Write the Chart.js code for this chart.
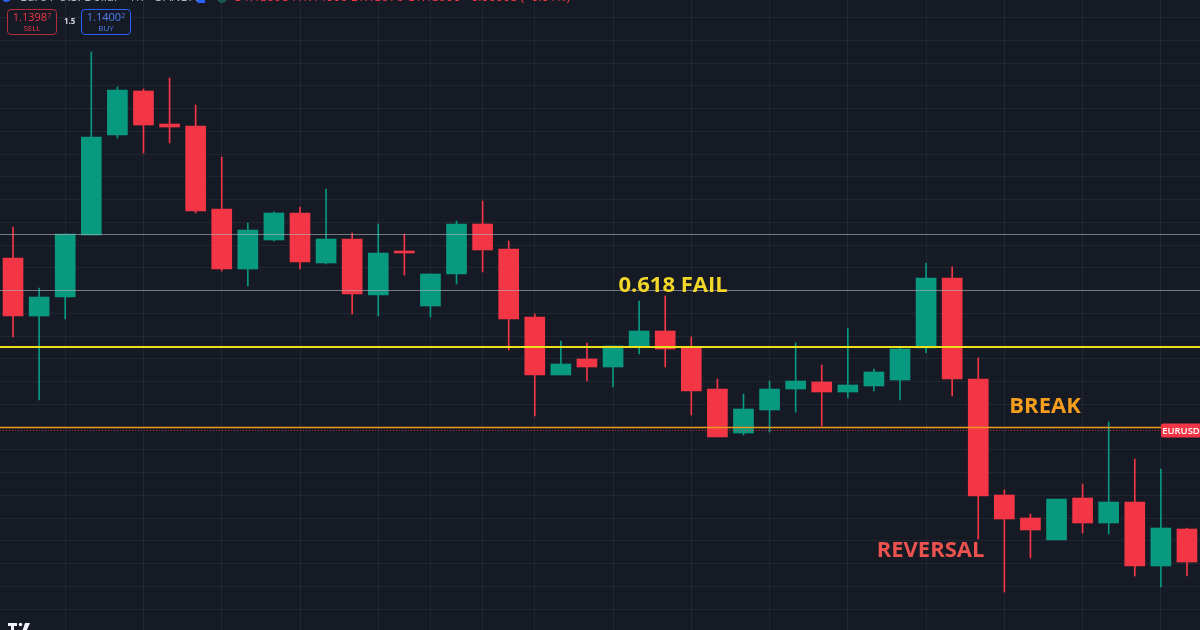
<!DOCTYPE html>
<html>
<head>
<meta charset="utf-8">
<title>EURUSD 1h</title>
<script src="https://cdn.jsdelivr.net/npm/chart.js@4.4.1/dist/chart.umd.min.js"></script>
<style>
  html, body { margin: 0; padding: 0; background: #161a25; }
  #wrap { position: relative; width: 1200px; height: 630px; overflow: hidden; background: #161a25; }
  #chart { display: block; }
  .hdr { position: absolute; top: -12px; left: 0; white-space: nowrap; font: 12.5px "Open Sans", sans-serif; color: #b2b5be; }
  .hdr .ico { position: absolute; left: 2px; top: 5px; width: 9px; height: 9px; border-radius: 50%; background: #2962ff; }
  .hdr .title { position: absolute; left: 20px; top: 0; }
  .hdr .sq { position: absolute; left: 197px; top: 7px; width: 8px; height: 8px; background: #2962ff; border-radius: 1px; }
  .hdr .dot { position: absolute; left: 217px; top: 5px; width: 10px; height: 10px; border-radius: 50%; background: #1e5a4c; }
  .hdr .ohlc { position: absolute; left: 233px; top: 0; color: #f23645; }
  .tbox { position: absolute; top: 9px; width: 50px; height: 26px; box-sizing: border-box; border: 1px solid; border-radius: 4px;
          text-align: center; font-family: "Open Sans", sans-serif; background: #161a25; }
  .sell { left: 7px; border-color: #b52d3a; color: #f23645; }
  .buy { left: 81px; border-color: #2962ff; color: #4f7ff0; }
  .tbox .px { font-size: 11px; line-height: 13px; margin-top: 0; }
  .tbox .px sup { font-size: 7px; vertical-align: 3px; line-height: 0; }
  .tbox .side { font-size: 8px; line-height: 10px; }
  .qty { position: absolute; left: 64px; top: 15px; font: bold 8px "Open Sans", sans-serif; color: #d1d4dc; }
  .logo { position: absolute; left: 8px; top: 622px; }
</style>
</head>
<body>
<div id="wrap">
  <canvas id="chart" width="1200" height="630"></canvas>
  <div class="hdr">
    <span class="ico"></span>
    <span class="title">Euro / U.S. Dollar · 1h · OANDA</span>
    <span class="sq"></span>
    <span class="dot"></span>
    <span class="ohlc">O1.13998 H1.14006 L1.13976 C1.13990 −0.00008 (−0.01%)</span>
  </div>
  <div class="tbox sell"><div class="px">1.1398<sup>7</sup></div><div class="side">SELL</div></div>
  <div class="qty">1.5</div>
  <div class="tbox buy"><div class="px">1.1400<sup>2</sup></div><div class="side">BUY</div></div>
  <svg class="logo" width="26" height="10" viewBox="0 0 26 10" aria-hidden="true">
    <path d="M0 1h9v3H6v6H3V4H0z" fill="#f0f3fa"/>
    <circle cx="12.5" cy="2.5" r="1.8" fill="#f0f3fa"/>
    <path d="M17 1h5l-4 9h-4z" fill="#f0f3fa"/>
  </svg>
</div>
<script>
// hourly candles
const opens  = [1.14334, 1.14218, 1.14256, 1.14380, 1.14580, 1.14668, 1.14602, 1.14598, 1.14432, 1.14312,
                1.14370, 1.14424, 1.14324, 1.14372, 1.14260, 1.14348, 1.14238, 1.14302, 1.14402, 1.14352,
                1.14216, 1.14100, 1.14132, 1.14116, 1.14158, 1.14188, 1.14154, 1.14072, 1.13984, 1.14030,
                1.14072, 1.14086, 1.14066, 1.14078, 1.14090, 1.14154, 1.14294, 1.14092, 1.13860, 1.13814,
                1.13770, 1.13854, 1.13804, 1.13846, 1.13718, 1.13792];
const highs  = [1.14396, 1.14274, 1.14382, 1.14746, 1.14676, 1.14672, 1.14694, 1.14640, 1.14536, 1.14404,
                1.14426, 1.14436, 1.14472, 1.14384, 1.14402, 1.14382, 1.14302, 1.14408, 1.14448, 1.14368,
                1.14222, 1.14168, 1.14164, 1.14158, 1.14248, 1.14258, 1.14176, 1.14092, 1.14062, 1.14088,
                1.14164, 1.14120, 1.14194, 1.14112, 1.14156, 1.14324, 1.14316, 1.14134, 1.13870, 1.13822,
                1.13852, 1.13882, 1.14006, 1.13932, 1.13912, 1.13794];
const lows   = [1.14176, 1.14050, 1.14212, 1.14380, 1.14574, 1.14544, 1.14564, 1.14424, 1.14308, 1.14278,
                1.14368, 1.14312, 1.14322, 1.14222, 1.14218, 1.14300, 1.14216, 1.14282, 1.14306, 1.14150,
                1.14018, 1.14100, 1.14088, 1.14076, 1.14142, 1.14116, 1.14020, 1.13976, 1.13980, 1.13986,
                1.14026, 1.13998, 1.14054, 1.14068, 1.14050, 1.14144, 1.14058, 1.13772, 1.13666, 1.13734,
                1.13770, 1.13784, 1.13782, 1.13698, 1.13676, 1.13698];
const closes = [1.14218, 1.14256, 1.14382, 1.14576, 1.14670, 1.14600, 1.14596, 1.14428, 1.14312, 1.14390,
                1.14424, 1.14326, 1.14372, 1.14262, 1.14344, 1.14344, 1.14302, 1.14402, 1.14350, 1.14212,
                1.14100, 1.14122, 1.14116, 1.14158, 1.14188, 1.14152, 1.14068, 1.13976, 1.14032, 1.14072,
                1.14088, 1.14066, 1.14080, 1.14106, 1.14152, 1.14294, 1.14092, 1.13858, 1.13812, 1.13790,
                1.13852, 1.13804, 1.13846, 1.13718, 1.13794, 1.13726];

// drawn levels
const grayLevels = [1.14382, 1.14270];
const fibLevel = 1.14156;
const breakLevel = 1.13996;
const lastPrice = 1.13989;

// time grid columns (candle index) and price grid
const timeGridCols = [2, 5, 8, 11, 14, 16, 18, 20, 23, 26, 29, 32, 35, 38, 41, 44];
const priceGridTop = 1.14815;
const priceGridStep = 0.0004552;

const UP = '#089981';
const DOWN = '#f23645';
const GRID = 'rgba(255,255,255,0.055)';
const FONT = '"Open Sans", "DejaVu Sans", sans-serif';

const labels = opens.map((_, i) => String(i + 1));
const colors = opens.map((o, i) => (closes[i] >= o ? UP : DOWN));

const notes = [
  { text: '0.618 FAIL', x: 25.3, y: 1.14278, color: '#f2d62a' },
  { text: 'BREAK', x: 39.56, y: 1.14037, color: '#f59d1d' },
  { text: 'REVERSAL', x: 35.17, y: 1.13748, color: '#ec524e' },
];

const overlay = {
  id: 'overlay',
  afterDatasetsDraw(chart) {
    const { ctx, chartArea: a, scales: { x, y } } = chart;
    ctx.save();
    const hline = (price, color, width, dash) => {
      const py = Math.round(y.getPixelForValue(price)) + (width % 2 ? 0.5 : 0);
      ctx.beginPath();
      ctx.setLineDash(dash || []);
      ctx.strokeStyle = color;
      ctx.lineWidth = width;
      ctx.moveTo(a.left, py);
      ctx.lineTo(a.right, py);
      ctx.stroke();
    };
    grayLevels.forEach((p) => hline(p, 'rgba(178,181,190,0.6)', 1));
    hline(fibLevel, '#ece01e', 2);
    hline(breakLevel, '#f19a22', 1.5);
    hline(lastPrice, 'rgba(242,54,69,0.75)', 1, [1, 2]);
    ctx.setLineDash([]);

    ctx.font = `bold 22px ${FONT}`;
    ctx.textAlign = 'center';
    ctx.textBaseline = 'middle';
    notes.forEach((n) => {
      ctx.fillStyle = n.color;
      ctx.fillText(n.text, x.getPixelForValue(n.x), y.getPixelForValue(n.y));
    });

    // symbol tag on the price line
    const ty = y.getPixelForValue(lastPrice);
    ctx.fillStyle = DOWN;
    ctx.beginPath();
    ctx.roundRect(a.right - 39, ty - 7, 41, 14, 2);
    ctx.fill();
    ctx.fillStyle = '#ffffff';
    ctx.font = `600 9.5px ${FONT}`;
    ctx.fillText('EURUSD', a.right - 19, ty + 0.5);
    ctx.restore();
  },
};

new Chart(document.getElementById('chart'), {
  type: 'bar',
  data: {
    labels,
    datasets: [
      {
        label: 'Wick',
        data: lows.map((l, i) => [l, highs[i]]),
        backgroundColor: colors,
        barThickness: 1,
        grouped: false,
        borderWidth: 0,
      },
      {
        label: 'Body',
        data: opens.map((o, i) => [o, closes[i]]),
        backgroundColor: colors,
        barThickness: 20,
        minBarLength: 1,
        grouped: false,
        borderWidth: 0,
        borderSkipped: false,
      },
    ],
  },
  options: {
    responsive: false,
    devicePixelRatio: 1,
    animation: false,
    events: [],
    layout: { padding: 0 },
    plugins: { legend: { display: false }, tooltip: { enabled: false } },
    scales: {
      x: {
        offset: true,
        border: { display: false },
        ticks: { display: false },
        grid: {
          offset: false,
          drawTicks: false,
          color: (c) => (timeGridCols.includes(c.index) ? GRID : 'transparent'),
        },
      },
      y: {
        min: 1.1359,
        max: 1.1485,
        border: { display: false },
        ticks: { display: false },
        grid: { drawTicks: false, color: GRID },
        afterBuildTicks(scale) {
          const t = [];
          for (let v = priceGridTop; v > scale.min; v -= priceGridStep) t.push({ value: v });
          scale.ticks = t;
        },
      },
    },
  },
  plugins: [overlay],
});
</script>
</body>
</html>
